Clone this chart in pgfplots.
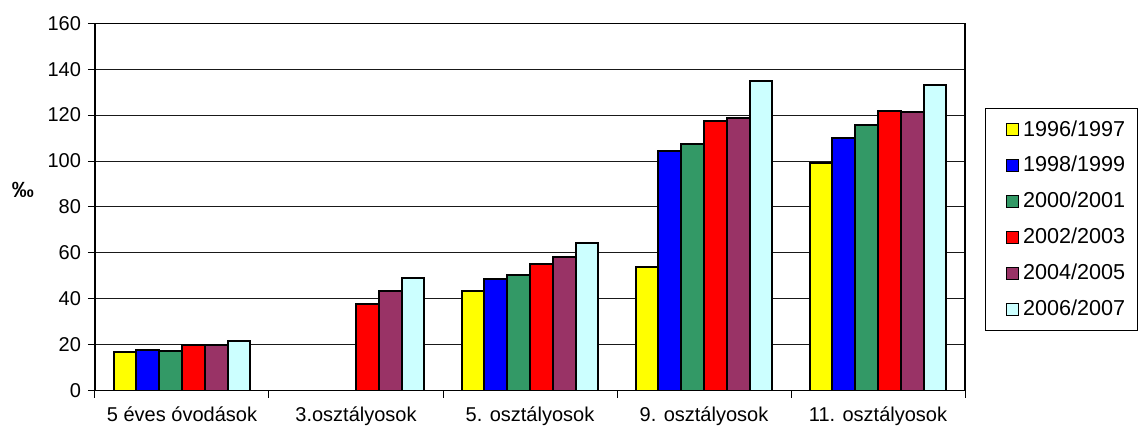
\documentclass[border=0pt]{standalone}
\usepackage{pgfplots}
\pgfplotsset{compat=1.18}
\usepackage{fontspec}
\setmainfont{Liberation Sans}

\definecolor{cYel}{HTML}{FFFF00}
\definecolor{cBlu}{HTML}{0000FF}
\definecolor{cGrn}{HTML}{339966}
\definecolor{cRed}{HTML}{FF0000}
\definecolor{cPur}{HTML}{993366}
\definecolor{cCya}{HTML}{CCFFFF}

\begin{document}
\begin{tikzpicture}
\begin{axis}[
    scale only axis,
    width=435pt, height=183.6pt,
    ybar=0pt, bar width=11.4pt,
    xmin=-0.5, xmax=4.5,
    ymin=0, ymax=160,
    ytick={0,20,...,160},
    xtick={0,1,2,3,4},
    xticklabels={5 éves óvodások, 3.osztályosok, 5. osztályosok, 9. osztályosok, 11. osztályosok},
    minor xtick={-0.5,0.5,1.5,2.5,3.5,4.5},
    major x tick style={draw=none},
    minor tick length=3.5pt,
    major tick length=3.5pt,
    tick align=outside,
    xtick pos=bottom, ytick pos=left,
    ymajorgrids=true,
    grid style={black!90, line width=0.5pt},
    axis line style={black, line width=0.6pt},
    tick style={black, line width=0.5pt},
    /pgf/number format/assume math mode=true,
    ticklabel style={font=\fontsize{10}{12}\selectfont},
    xticklabel style={yshift=-1pt},
    ylabel={\textbf{‰}},
    ylabel style={at={(axis description cs:-0.083,0.546)}, rotate=-90, anchor=center, font=\fontsize{11}{13}\selectfont},
    legend style={at={(1.023,0.466)}, anchor=west, draw=black, line width=0.5pt,
        font=\fontsize{10.8}{12}\selectfont, row sep=4.6pt, inner xsep=4pt, inner ysep=4pt,
        cells={anchor=west}},
    legend image code/.code={\path (0pt,0pt); \draw[#1, line width=0.5pt] (6pt,-3pt) rectangle (12pt,3pt);},
    every axis plot/.append style={draw=black, line width=1pt},
]
\coordinate (O) at (rel axis cs:0,0);
\addplot[fill=cYel] coordinates {(0,16.6) (2,43.5) (3,53.7) (4,99.1)};
\addplot[fill=cBlu] coordinates {(0,17.6) (2,48.6) (3,104.2) (4,110.2)};
\addplot[fill=cGrn] coordinates {(0,17.0) (2,50.2) (3,107.3) (4,115.5)};
\addplot[fill=cRed] coordinates {(0,20.0) (1,37.8) (2,55.3) (3,117.5) (4,121.7)};
\addplot[fill=cPur] coordinates {(0,20.0) (1,43.2) (2,58.2) (3,118.6) (4,121.5)};
\addplot[fill=cCya] coordinates {(0,21.4) (1,49.0) (2,64.4) (3,134.7) (4,133.2)};
\legend{1996/1997, 1998/1999, 2000/2001, 2002/2003, 2004/2005, 2006/2007}
\end{axis}
\pgfresetboundingbox
\useasboundingbox (O) ++(-47.5pt,-19.75pt) rectangle ++(573pt,215pt);
\end{tikzpicture}
\end{document}
